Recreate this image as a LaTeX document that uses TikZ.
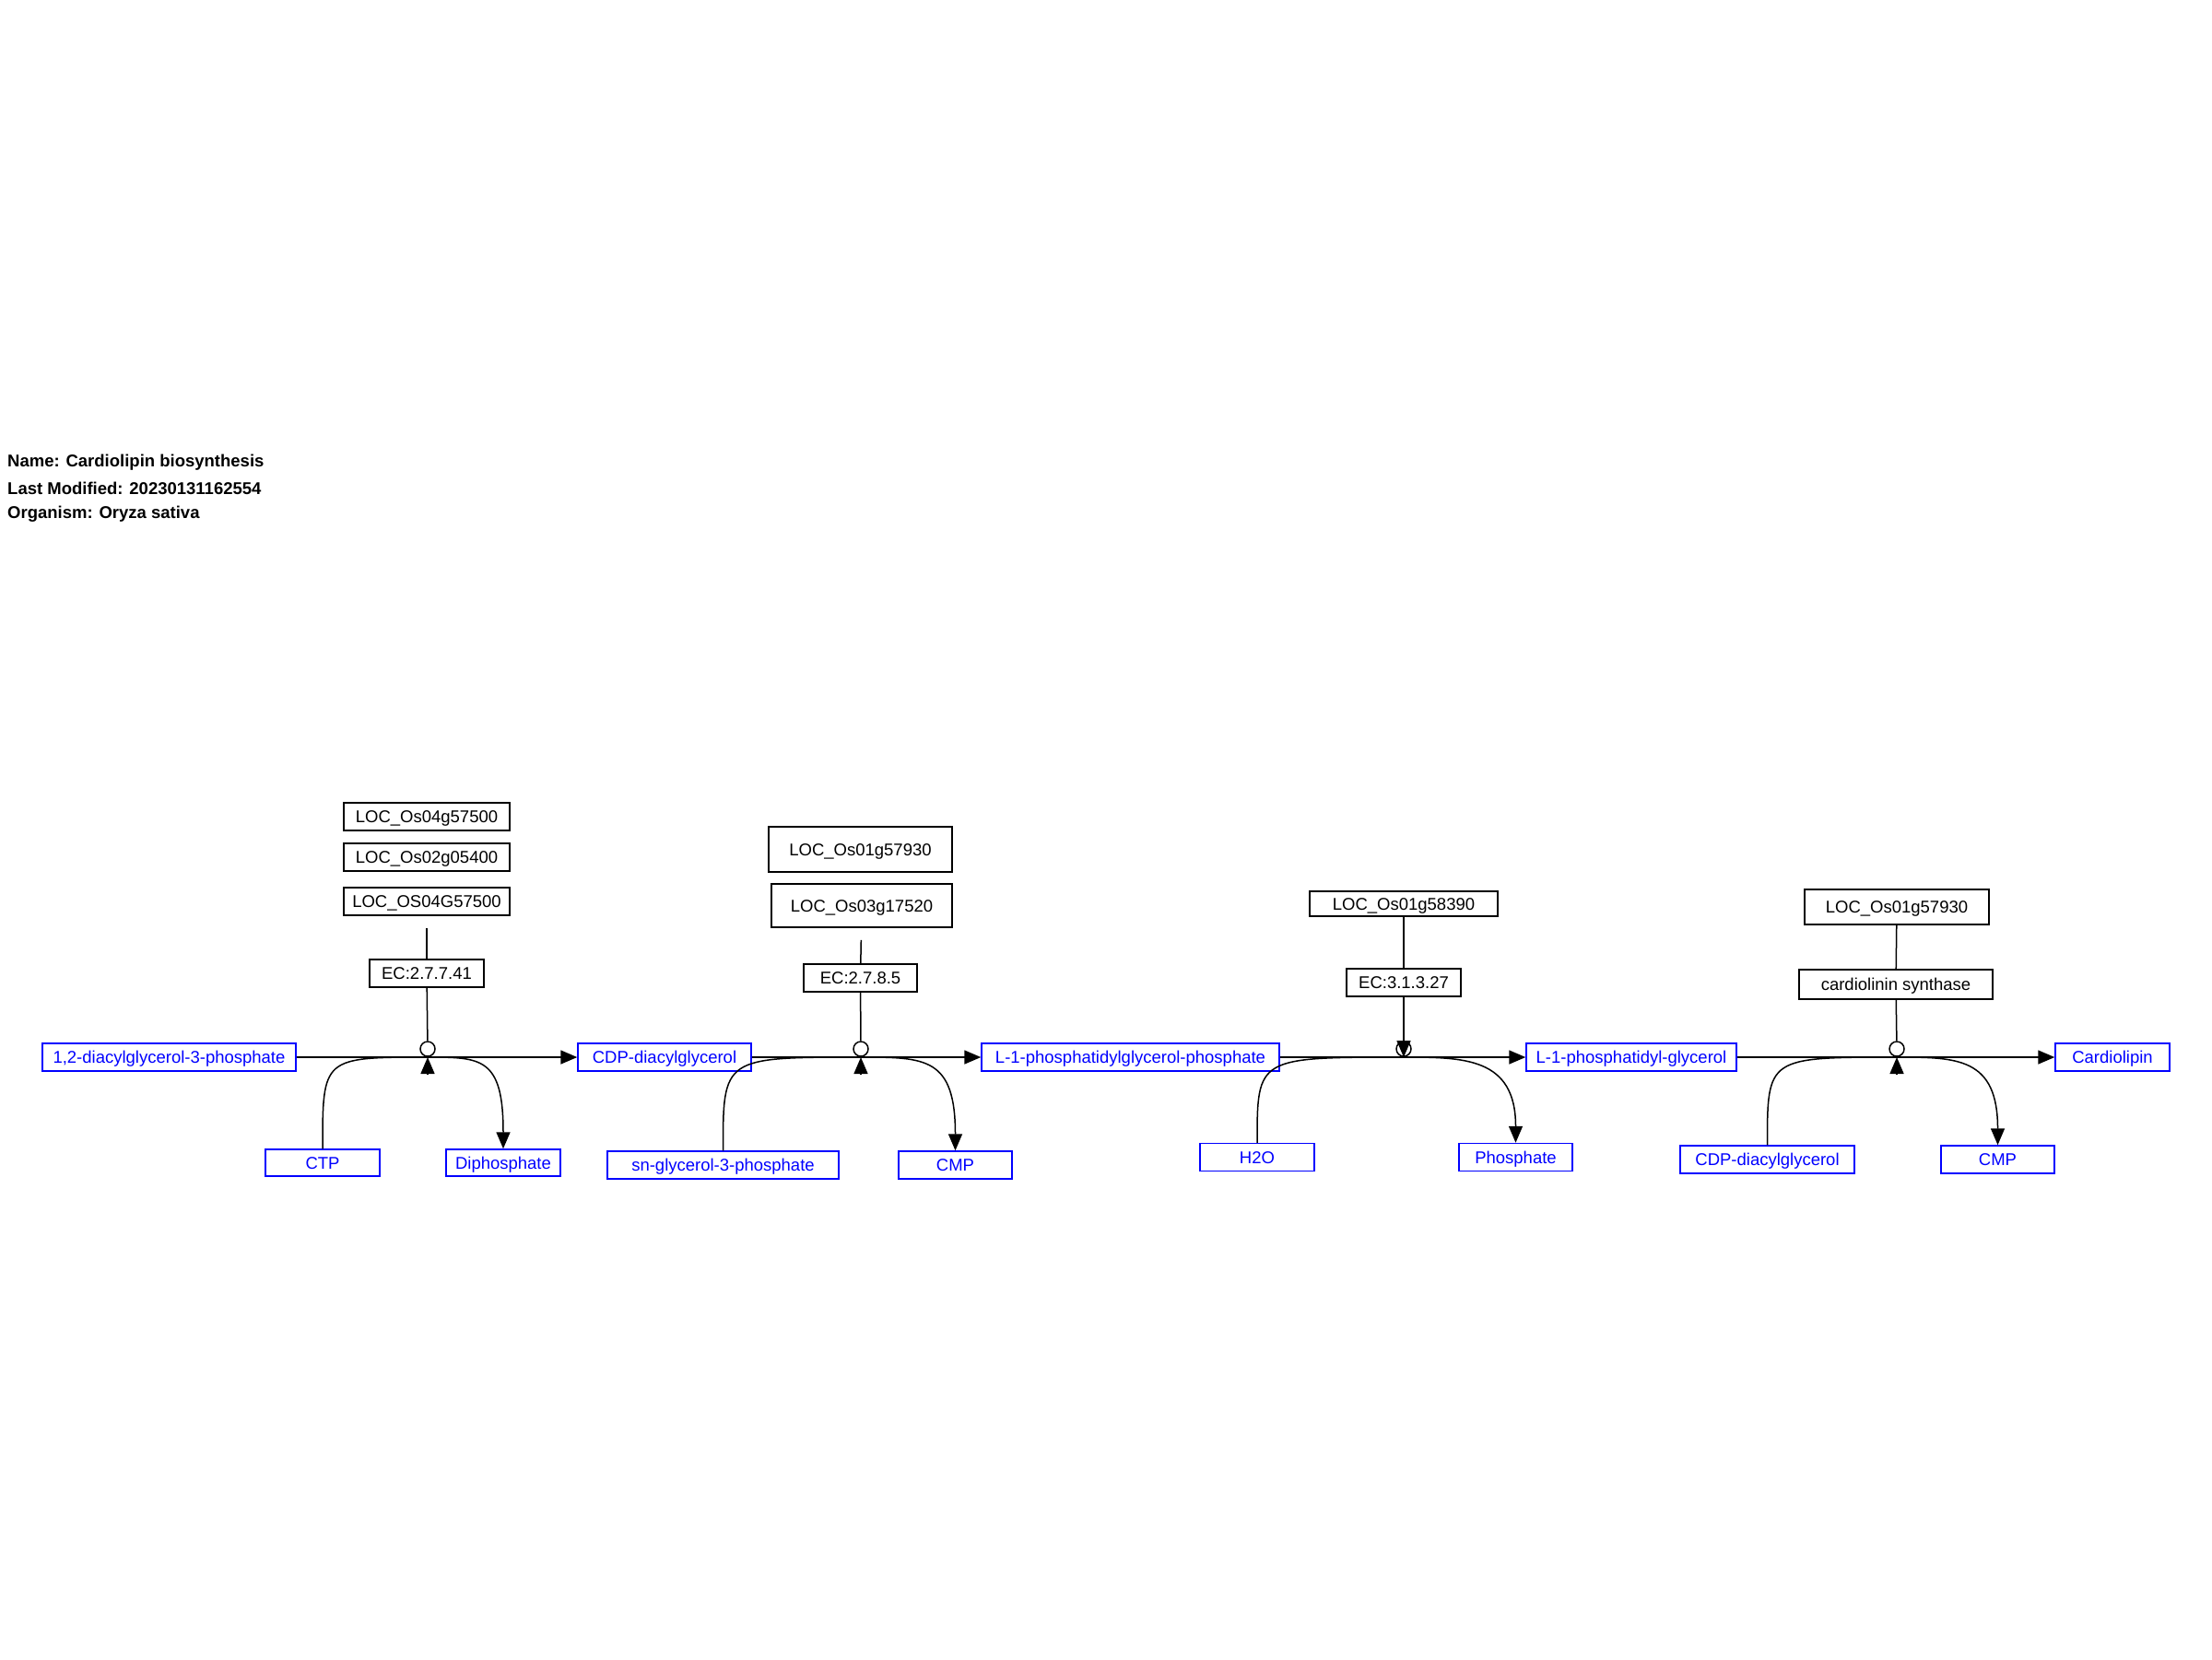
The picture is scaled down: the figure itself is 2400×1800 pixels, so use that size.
\documentclass[tikz,border=0pt]{standalone}
\usepackage{fontspec}
\setmainfont{Liberation Sans}
\usetikzlibrary{arrows.meta}

\begin{document}
\begin{tikzpicture}[x=1pt,y=-1pt,
    title/.style={anchor=west, inner sep=0pt, font=\fontsize{18.5}{22}\selectfont\bfseries},
    gene/.style={draw=black, line width=1.5pt, inner sep=0pt, minimum height=30pt,
        text height=13.25pt, text depth=0pt, font=\fontsize{18.5}{22}\selectfont},
    metab/.style={draw=blue, text=blue, line width=1.5pt, inner sep=0pt, minimum height=30pt,
        text height=13.25pt, text depth=0pt, font=\fontsize{18.5}{22}\selectfont},
    hub/.style={circle, draw, fill=white, line width=1.5pt, inner sep=0pt, minimum size=16pt},
    link/.style={line width=1.5pt},
    conv/.style={line width=1.5pt, -{Triangle[length=18pt,width=15pt]}}]

\useasboundingbox (0,0) rectangle (2400,1800);

% Header
\node[title] (nm) at (8,502) {Name: Cardiolipin biosynthesis};
\node[title] (lm) at (8,530) {Last Modified: 20230131162554};
\node[title] (org) at (8,558) {Organism: Oryza sativa};

% Reaction 1
\node[gene, minimum width=180pt] (g1a) at (463,886) {LOC\_Os04g57500};
\node[gene, minimum width=180pt] (g1b) at (463,930) {LOC\_Os02g05400};
\node[gene, minimum width=180pt] (g1c) at (463,978) {LOC\_OS04G57500};
\node[gene, minimum width=124pt] (ec1) at (463,1056) {EC:2.7.7.41};
\node[metab, minimum width=275pt] (s1) at (183.5,1147) {1,2-diacylglycerol-3-phosphate};
\node[metab, minimum width=124pt, minimum height=29pt] (ctp) at (350,1261.5) {CTP};
\node[metab, minimum width=124pt, minimum height=29pt] (dip) at (546,1261.5) {Diphosphate};
\node[metab, minimum width=188pt] (cdp1) at (721,1147) {CDP-diacylglycerol};
\coordinate (r1) at (464,1147);
\coordinate (r1u) at (464,1165);

\draw[link, shorten <=13pt] (g1c) -- (ec1);
\draw[conv] (s1) -- (cdp1);
\draw[link] (ctp.north) .. controls (ctp.north |- r1) .. (r1);
\draw[conv] (r1) .. controls +(58,0) and (dip.north |- r1) .. (dip.north);
\draw[conv] (r1u) -- (r1);
\node[hub] (c1) at (464,1138) {};
\draw[link] (ec1) -- (c1);

% Reaction 2
\node[gene, minimum width=199pt, minimum height=49pt] (g2a) at (933.5,921.5) {LOC\_Os01g57930};
\node[gene, minimum width=196pt, minimum height=47pt] (g2b) at (935,982.5) {LOC\_Os03g17520};
\node[gene, minimum width=123pt] (ec2) at (933.5,1061) {EC:2.7.8.5};
\node[metab, minimum width=251pt] (sng) at (784.5,1264) {sn-glycerol-3-phosphate};
\node[metab, minimum width=123pt] (cmp1) at (1036.5,1264) {CMP};
\node[metab, minimum width=323pt] (lpgp) at (1226.5,1147) {L-1-phosphatidylglycerol-phosphate};
\coordinate (r2) at (934,1147);
\coordinate (r2u) at (934,1165);

\draw[link, shorten <=13pt] (g2b) -- (ec2);
\draw[conv] (cdp1) -- (lpgp);
\draw[link] (sng.north) .. controls (sng.north |- r2) .. (r2);
\draw[conv] (r2) .. controls +(70,0) and (cmp1.north |- r2) .. (cmp1.north);
\draw[conv] (r2u) -- (r2);
\node[hub] (c2) at (934,1138) {};
\draw[link] (ec2) -- (c2);

% Reaction 3
\node[gene, minimum width=204pt, minimum height=27pt] (g3) at (1523,980.5) {LOC\_Os01g58390};
\node[gene, minimum width=124pt] (ec3) at (1523,1066) {EC:3.1.3.27};
\node[metab, minimum width=124pt] (h2o) at (1364,1255.5) {H2O};
\node[metab, minimum width=123pt] (pho) at (1644.5,1255.5) {Phosphate};
\node[metab, minimum width=228pt] (lpg) at (1770,1147) {L-1-phosphatidyl-glycerol};
\coordinate (r3) at (1523,1147);

\draw[link] (g3) -- (ec3);
\draw[conv] (lpgp) -- (lpg);
\draw[link] (h2o.north) .. controls (h2o.north |- r3) .. (r3);
\draw[conv] (r3) .. controls +(65,0) and (pho.north |- r3) .. (pho.north);
\node[hub] (c3) at (1523,1138) {};
\draw[conv] (ec3) -- (r3);

% Reaction 4
\node[gene, minimum width=200pt, minimum height=38pt] (g4) at (2058,984) {LOC\_Os01g57930};
\node[gene, minimum width=210pt, minimum height=32pt] (ec4) at (2057,1068) {cardiolinin synthase};
\node[metab, minimum width=189pt] (cdp2) at (1917.5,1258) {CDP-diacylglycerol};
\node[metab, minimum width=123pt] (cmp2) at (2167.5,1258) {CMP};
\node[metab, minimum width=124pt] (card) at (2292,1147) {Cardiolipin};
\coordinate (r4) at (2058,1147);
\coordinate (r4u) at (2058,1165);

\draw[link] (g4) -- (ec4);
\draw[conv] (lpg) -- (card);
\draw[link] (cdp2.north) .. controls (cdp2.north |- r4) .. (r4);
\draw[conv] (r4) .. controls +(65,0) and (cmp2.north |- r4) .. (cmp2.north);
\draw[conv] (r4u) -- (r4);
\node[hub] (c4) at (2058,1138) {};
\draw[link] (ec4) -- (c4);

\end{tikzpicture}
\end{document}
